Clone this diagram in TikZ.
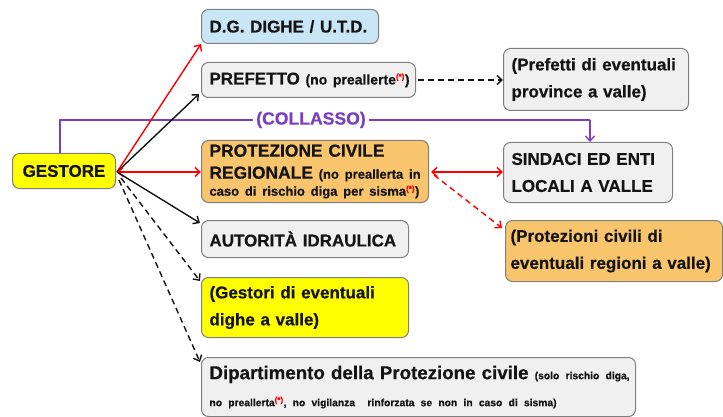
\documentclass[tikz,border=0pt]{standalone}
\usepackage{fontspec}
\setmainfont{Liberation Sans}[BoldFeatures={FakeBold=0.5}]
\usetikzlibrary{arrows.meta,calc}
\definecolor{txt}{HTML}{141414}
\definecolor{bord}{HTML}{7F7F7F}
\definecolor{lblue}{HTML}{C9E6F7}
\definecolor{lgray}{HTML}{F0F0F0}
\definecolor{lorange}{HTML}{F9C56C}
\definecolor{yel}{HTML}{FFFF00}
\definecolor{purp}{HTML}{7B3FBF}
\definecolor{rd}{HTML}{FF0000}
\newcommand{\astmark}{\textsuperscript{\color{rd}\fontsize{8}{8}\selectfont(*)}}
\newcommand{\smalltxt}{\fontsize{14}{16}\selectfont}
\newcommand{\tinytxt}{\fontsize{10.3}{12}\selectfont}
\begin{document}
\begin{tikzpicture}[x=1pt,y=-1pt,
  box/.style={draw=bord, line width=1pt, rounded corners=7pt, anchor=north west,
    inner xsep=8pt, inner ysep=0pt, font=\bfseries\fontsize{17}{27}\selectfont,
    align=left, text=txt},
  ar/.style={line width=1.4pt, -{Straight Barb[length=5pt,width=9pt]}},
  dar/.style={ar, dash pattern=on 6pt off 4pt},
  dtip/.style={{Straight Barb[length=5pt,width=9pt]}-{Straight Barb[length=5pt,width=9pt]}},
]
\useasboundingbox (0,0) rectangle (723,417);
% boxes
\node[box, fill=yel, align=center, text width=87pt, minimum height=35pt] (ges) at (12,153) {\mbox{GESTORE}};
\node[box, fill=lblue, text width=161pt, minimum height=34pt] (dg) at (201,9) {\mbox{D.G. DIGHE / U.T.D.}};
\node[box, fill=lgray, text width=198pt, minimum height=35pt] (pref) at (201,62) {\mbox{PREFETTO {\smalltxt (no preallerte\astmark)}}};
\node[box, fill=lgray, text width=169pt, minimum height=62pt] (prefv) at (503,48) {\mbox{(Prefetti di eventuali}\\\mbox{province a valle)}};
\node[box, fill=lorange, text width=211pt, minimum height=62pt, font=\bfseries\fontsize{17.4}{22}\selectfont] (prc) at (201,140)
  {\mbox{PROTEZIONE CIVILE}\\\mbox{REGIONALE {\fontsize{13}{15}\selectfont (no preallerta in}}\\[-5pt]\mbox{\fontsize{13}{15}\selectfont caso di rischio diga per sisma\astmark)}};
\node[box, fill=lgray, text width=153pt, minimum height=60pt] (sind) at (503,142) {\mbox{SINDACI ED ENTI}\\\mbox{LOCALI A VALLE}};
\node[box, fill=lorange, inner xsep=5pt, text width=207pt, minimum height=61pt] (prcv) at (505,220) {\mbox{(Protezioni civili di}\\\mbox{eventuali regioni a valle)}};
\node[box, fill=lgray, text width=191pt, minimum height=37pt] (aut) at (201,220) {\mbox{AUTORITÀ IDRAULICA}};
\node[box, fill=yel, text width=191pt, minimum height=60pt] (gesv) at (201,277) {\mbox{(Gestori di eventuali}\\\mbox{dighe a valle)}};
\node[box, fill=lgray, text width=418pt, minimum height=59pt, font=\bfseries\fontsize{18.7}{27}\selectfont] (dip) at (201,357)
  {\mbox{Dipartimento della Protezione civile {\tinytxt (solo rischio diga,}}\\\mbox{\tinytxt no preallerta\astmark, no vigilanza\ \ rinforzata se non in caso di sisma)}};
% collasso
\coordinate (c1) at (60,120);
\coordinate (c2) at (590,120);
\draw[purp, line width=1.4pt] (ges.north west -| c1) -- (c1) -- (c2);
\draw[purp, ar] (c2) -- (sind.north -| c2);
\node[fill=white, text=purp, font=\bfseries\fontsize{17.6}{20}\selectfont, inner xsep=3pt, inner ysep=1pt] (col) at (311,120) {(COLLASSO)};
% arrows from gestore
\coordinate (o) at (117,172);
\draw[ar, rd] (o) -- (dg.south west);
\draw[ar, txt] (o) -- ([shift={(-2,-4)}]pref.south west);
\draw[ar, rd, dtip] (o) -- (o -| prc.west);
\draw[ar, txt] (o) -- ([shift={(-1,3)}]aut.north west);
\draw[dar, txt] ([shift={(4,6)}]o) -- ([shift={(-1,4)}]gesv.north west);
\draw[dar, txt] ([shift={(2,8)}]o) -- ([shift={(-1,5)}]dip.north west);
% right side
\coordinate (p) at ([xshift=2pt]prc.east |- o);
\draw[ar, rd, dtip] (p) -- (p -| sind.west);
\draw[dar, rd] ([shift={(3,3)}]p) -- ([shift={(-3,8)}]prcv.north west);
\draw[dar, txt] ([xshift=2pt]pref.east) -- (pref.east -| prefv.west);
\end{tikzpicture}
\end{document}
